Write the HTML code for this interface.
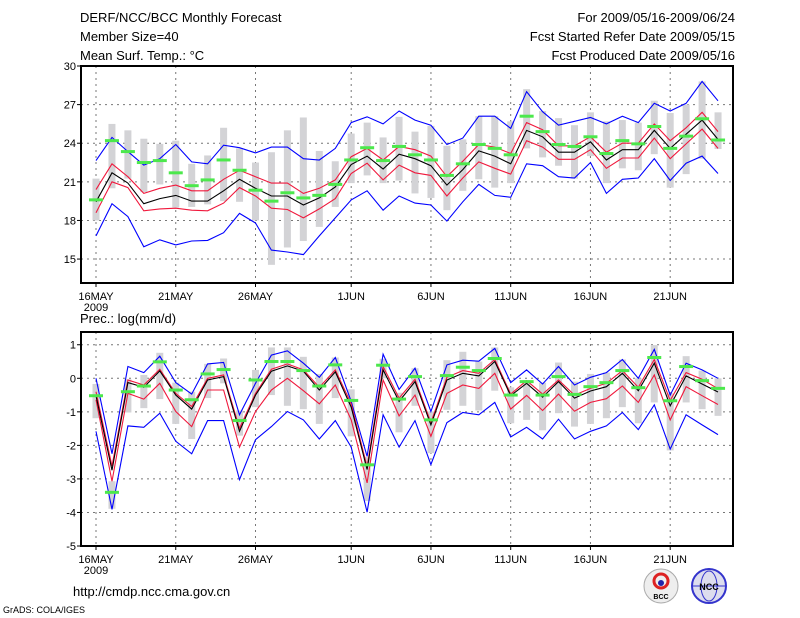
<!DOCTYPE html>
<html><head><meta charset="utf-8"><style>
body{margin:0;background:#fff;width:800px;height:618px;overflow:hidden}
svg{display:block}
text{font-family:"Liberation Sans",sans-serif;fill:#000}
</style></head><body>
<svg id="chart" width="800" height="618" viewBox="0 0 800 618">
<text x="80" y="22" font-size="13">DERF/NCC/BCC Monthly Forecast</text>
<text x="80" y="41" font-size="13">Member Size=40</text>
<text x="80" y="60" font-size="13">Mean Surf. Temp.: °C</text>
<text x="735" y="22" font-size="13" text-anchor="end">For 2009/05/16-2009/06/24</text>
<text x="735" y="41" font-size="13" text-anchor="end">Fcst Started Refer Date 2009/05/15</text>
<text x="735" y="60" font-size="13" text-anchor="end">Fcst Produced Date 2009/05/16</text>
<text x="80" y="323" font-size="13">Prec.: log(mm/d)</text>
<text x="73" y="596" font-size="13">http://cmdp.ncc.cma.gov.cn</text>
<text x="3" y="613" font-size="9">GrADS: COLA/IGES</text>
<g>
<circle cx="661" cy="586" r="17" fill="#eee" stroke="#aaa"/>
<circle cx="661" cy="581" r="7" fill="none" stroke="#d22" stroke-width="3"/>
<circle cx="661" cy="583" r="3" fill="#22a"/>
<text x="661" y="599" font-size="7" text-anchor="middle" font-weight="bold">BCC</text>
</g>
<g>
<circle cx="709" cy="586" r="17" fill="#dde" stroke="#33c" stroke-width="2"/>
<ellipse cx="709" cy="586" rx="8" ry="15" fill="none" stroke="#33c"/>
<line x1="693" y1="586" x2="725" y2="586" stroke="#33c"/>
<text x="709" y="590" font-size="9" text-anchor="middle" font-weight="bold" fill="#00c">NCC</text>
</g>
<g id="topPanel"></g>
<g id="botPanel"></g>
</svg>
<script>
// ---- data ----
const dayLabels = ["16MAY","21MAY","26MAY","1JUN","6JUN","11JUN","16JUN","21JUN"];
const dayLabelIdx = [0,5,10,16,21,26,31,36];
const tTicks = [15,18,21,24,27,30];
const pTicks = [-5,-4,-3,-2,-1,0,1];

const tMean = [19.45,21.7,20.9,19.3,19.7,19.95,19.5,19.5,20.3,21.2,20.5,19.9,19.9,19.2,19.75,20.6,22.35,23.0,22.0,23.15,22.8,22.25,20.75,21.95,23.4,23.0,22.4,25.0,24.5,23.3,23.3,24.1,22.7,23.5,23.5,25.0,23.6,24.7,25.8,24.3];
const tRedHi = [20.4,22.4,21.4,20.1,20.5,20.75,20.3,20.3,21.2,21.9,21.4,20.9,20.9,20.1,20.5,21.15,22.95,23.6,22.7,23.75,23.5,23.0,21.4,22.6,23.9,23.7,23.2,25.6,25.05,23.8,23.8,24.5,23.3,24.0,24.0,25.5,24.2,25.2,26.4,24.9];
const tRedLo = [18.6,21.0,20.55,18.75,18.9,18.95,18.8,18.75,19.35,20.55,19.9,18.95,18.85,18.2,18.9,19.7,21.65,22.45,21.15,22.3,21.7,21.5,19.9,21.3,22.55,22.05,21.6,24.2,23.7,22.75,22.75,23.5,22.05,22.85,22.85,24.4,22.8,23.95,25.1,23.6];
const tBlueHi = [22.65,24.45,23.35,22.3,22.8,23.9,22.55,22.4,23.85,23.65,23.25,23.7,23.7,22.8,22.7,23.6,25.6,26.05,25.5,26.5,25.8,25.4,23.9,24.4,26.1,26.1,25.15,28.0,26.45,25.4,25.7,26.0,25.5,26.1,25.6,27.1,26.5,27.1,28.8,27.3];
const tBlueLo = [16.8,19.3,18.3,15.95,16.5,16.1,16.4,16.45,17.05,18.55,17.8,15.7,15.55,15.35,16.8,18.2,19.6,20.3,18.8,19.9,19.35,19.2,17.95,19.45,20.8,19.95,19.8,22.4,22.25,21.4,21.3,22.5,20.1,21.2,21.3,22.8,21.1,22.45,23.0,21.65];
const tObs = [19.6,24.2,23.35,22.5,22.65,21.7,20.7,21.15,22.7,21.9,20.35,19.5,20.15,19.75,19.95,20.8,22.7,23.65,22.65,23.75,23.1,22.7,21.5,22.4,23.9,23.6,23.1,26.1,24.9,23.9,23.75,24.5,23.2,24.2,23.95,25.3,23.6,24.55,25.9,24.25];
const tBarHi = [21.25,25.5,25.0,24.35,23.95,24.2,22.4,23.05,25.2,23.6,22.5,23.3,25.0,26.0,23.4,22.6,24.75,25.6,24.45,26.05,24.9,25.35,23.8,24.3,26.1,26.1,25.7,28.2,26.5,25.95,25.4,26.4,25.7,25.8,25.6,27.3,26.35,27.0,28.8,26.4];
const tBarLo = [18.0,20.5,21.25,20.2,20.8,19.0,19.05,19.25,19.5,19.45,18.0,14.55,15.9,16.4,17.5,19.05,20.9,21.5,20.9,21.1,20.1,19.75,18.8,20.3,21.2,20.55,20.9,23.6,22.9,22.25,21.25,23.0,20.9,22.05,21.9,23.15,20.55,21.6,22.8,23.55];

const pMean = [-0.52,-2.74,-0.13,-0.27,0.22,-0.5,-0.92,-0.05,0.05,-1.58,-0.5,0.21,0.37,0.21,-0.35,0.19,-0.86,-2.72,0.25,-0.69,-0.1,-1.39,-0.05,0.15,0.07,0.5,-0.52,-0.15,-0.56,-0.1,-0.59,-0.38,-0.25,0.15,-0.37,0.45,-0.82,0.07,-0.17,-0.41];
const pRedHi = [-0.4,-2.62,-0.05,-0.2,0.27,-0.45,-0.84,0,0.1,-1.49,-0.45,0.27,0.43,0.25,-0.27,0.25,-0.76,-2.64,0.35,-0.59,-0.03,-1.32,0.03,0.23,0.15,0.56,-0.47,-0.07,-0.47,-0.05,-0.5,-0.3,-0.15,0.23,-0.27,0.56,-0.66,0.17,-0.03,-0.31];
const pRedLo = [-0.64,-3.07,-0.45,-0.62,-0.15,-0.99,-1.44,-0.35,-0.35,-2.05,-0.99,-0.35,0,-0.37,-0.76,-0.2,-1.24,-3.12,-0.05,-1.12,-0.5,-1.73,-0.45,-0.2,-0.3,0.15,-0.92,-0.51,-0.96,-0.47,-0.98,-0.72,-0.61,-0.23,-0.72,0.1,-1.24,-0.25,-0.52,-0.78];
const pBlueHi = [0,-2.25,0.35,0.17,0.66,-0.13,-0.47,0.43,0.47,-1.09,-0.15,0.69,0.82,0.45,0.03,0.62,-0.69,-2.33,0.72,-0.33,0.3,-0.99,0.4,0.54,0.51,0.89,-0.13,0.25,-0.17,0.35,-0.2,0.03,0.17,0.56,0,0.86,-0.5,0.45,0.25,0];
const pBlueLo = [-1.58,-3.91,-1.42,-1.46,-1.04,-1.88,-2.25,-1.26,-1.26,-3.02,-1.83,-1.44,-0.99,-1.24,-1.81,-1.26,-2.05,-3.99,-1.09,-2.05,-1.26,-2.57,-1.32,-1.02,-1.09,-0.72,-1.75,-1.46,-1.81,-1.22,-1.81,-1.58,-1.42,-1.02,-1.53,-0.79,-2.11,-1.09,-1.39,-1.68];
const pObs = [-0.52,-3.4,-0.4,-0.23,0.49,-0.35,-0.64,0.13,0.26,-1.26,-0.05,0.5,0.5,0.23,-0.23,0.4,-0.66,-2.58,0.39,-0.62,0.05,-1.24,0.08,0.33,0.23,0.59,-0.5,-0.1,-0.5,0.05,-0.48,-0.25,-0.13,0.23,-0.28,0.62,-0.67,0.35,-0.07,-0.3];
const pBarHi = [-0.17,-3.07,-0.03,0.1,0.76,-0.13,-0.4,0.43,0.59,-0.96,0.25,0.92,0.92,0.64,0.13,0.62,-0.33,-2.35,0.58,-0.43,0.3,-0.99,0.54,0.79,0.5,0.92,-0.27,-0.05,-0.13,0.47,-0.1,0.13,0.17,0.56,0,0.99,-0.45,0.66,0.23,0];
const pBarLo = [-1.19,-3.89,-1.02,-0.89,-0.62,-1.36,-1.81,-0.59,-0.15,-1.71,-0.86,-0.5,-0.82,-0.92,-1.36,-0.59,-1.73,-3.66,0,-1.61,-0.82,-2.23,-0.94,-0.82,-0.96,-0.37,-1.34,-1.24,-1.55,-1.04,-1.44,-1.36,-1.19,-0.86,-1.34,-0.72,-2.15,-0.72,-0.92,-1.12];

// ---- drawing ----
const NS = "http://www.w3.org/2000/svg";
const X0 = 81, X1 = 733;
function xPos(i){ return 96 + i * 15.95; }
function mk(parent, tag, attrs){
  const e = document.createElementNS(NS, tag);
  for (const k in attrs) e.setAttribute(k, attrs[k]);
  parent.appendChild(e);
  return e;
}
function panel(g, name, y0, y1, vmin, vmax, ticks, barHi, barLo, obs, series){
  const yPos = v => y1 - (v - vmin) / (vmax - vmin) * (y1 - y0);
  ticks.forEach(t => {
    const y = yPos(t);
    if (y > y0 + 1 && y < y1 - 1) {
      const l = mk(g, "line", {x1:X0, x2:X1, y1:y, y2:y, stroke:"#777", "stroke-dasharray":"2,4"});
      
      
    }
    const tk = mk(g, "line", {x1:X0-4, x2:X0, y1:y, y2:y, stroke:"#000"});
    
    
    const tx = mk(g, "text", {x:X0-5, y:y+4, "font-size":11, "text-anchor":"end"});
    tx.textContent = t;
    
    
  });
  dayLabelIdx.forEach((di, k) => {
    const x = xPos(di);
    const l = mk(g, "line", {x1:x, x2:x, y1:y0, y2:y1, stroke:"#777", "stroke-dasharray":"2,4"});
    
    
    const tk = mk(g, "line", {x1:x, x2:x, y1:y1, y2:y1+4, stroke:"#000"});
    
    
    const tx = mk(g, "text", {x:x, y:y1+17, "font-size":11, "text-anchor":"middle"});
    tx.textContent = dayLabels[k];
    
    
  });
  const yr = mk(g, "text", {x:xPos(0), y:y1+28, "font-size":11, "text-anchor":"middle"});
  yr.textContent = "2009";
  
  
  barHi.forEach((h, i) => {
    const r = mk(g, "rect", {x:xPos(i)-3.5, y:yPos(h), width:7, height:Math.max(1, yPos(barLo[i]) - yPos(h)), fill:"#d3d3d6"});
    
    
  });
  series.forEach(s => {
    const pts = s.data.map((v, i) => xPos(i).toFixed(1) + "," + yPos(v).toFixed(1)).join(" ");
    const p = mk(g, "polyline", {points:pts, fill:"none", stroke:s.color, "stroke-width":1.1});
    
    
  });
  obs.forEach((v, i) => {
    const r = mk(g, "rect", {x:xPos(i)-7, y:yPos(v)-1.5, width:14, height:3, fill:"#4ce84c"});
    
    
  });
  const f = mk(g, "rect", {x:X0, y:y0, width:X1-X0, height:y1-y0, fill:"none", stroke:"#000", "stroke-width":2});
  
  
}
const topG = document.getElementById("topPanel");


panel(topG, "temp", 66, 283, 13.14, 30, tTicks, tBarHi, tBarLo, tObs, [
  {name:"blue-upper", color:"#0000ff", data:tBlueHi},
  {name:"blue-lower", color:"#0000ff", data:tBlueLo},
  {name:"red-upper", color:"#f0183c", data:tRedHi},
  {name:"red-lower", color:"#f0183c", data:tRedLo},
  {name:"ensemble-mean", color:"#000", data:tMean}]);
const botG = document.getElementById("botPanel");


panel(botG, "precip", 332, 546, -5, 1.38, pTicks, pBarHi, pBarLo, pObs, [
  {name:"blue-upper", color:"#0000ff", data:pBlueHi},
  {name:"blue-lower", color:"#0000ff", data:pBlueLo},
  {name:"red-upper", color:"#f0183c", data:pRedHi},
  {name:"red-lower", color:"#f0183c", data:pRedLo},
  {name:"ensemble-mean", color:"#000", data:pMean}]);
</script>
</body></html>
